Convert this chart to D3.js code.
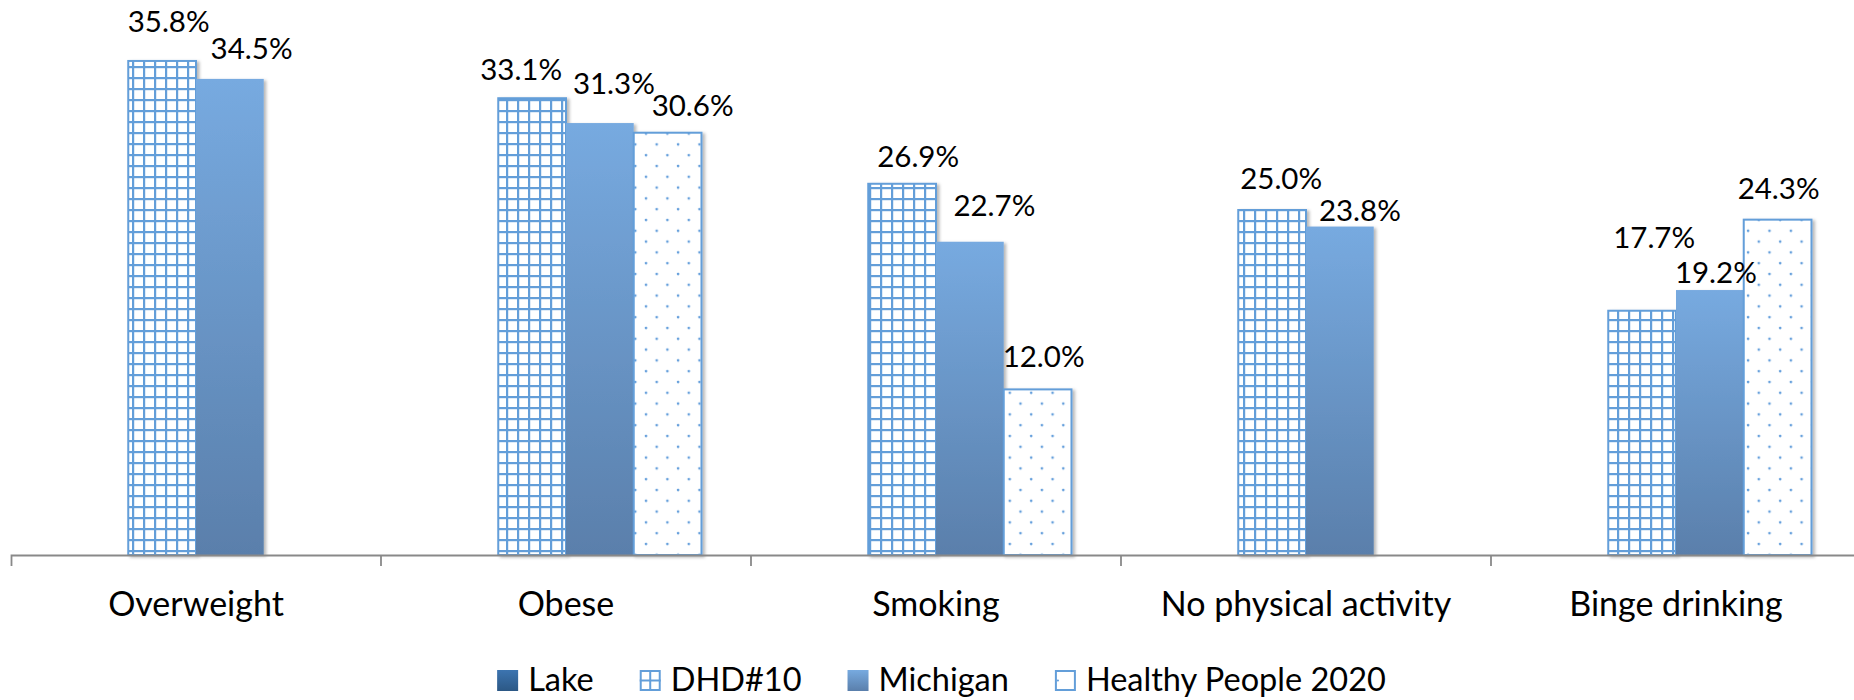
<!DOCTYPE html>
<html><head><meta charset="utf-8">
<script src="https://cdn.jsdelivr.net/npm/d3@7/dist/d3.min.js"></script>
<style>
body{margin:0;background:#fff;overflow:hidden}
svg{display:block;font-family:Lato,"Open Sans",sans-serif}
</style>
</head><body>
<svg id="chart" width="1854" height="700"></svg>
<script>
// ---------- data ----------
const categories = ["Overweight", "Obese", "Smoking", "No physical activity", "Binge drinking"];
const seriesNames = ["Lake", "DHD#10", "Michigan", "Healthy People 2020"];
const lakeValues = [null, null, null, null, null];
const dhd10Values = [35.8, 33.1, 26.9, 25.0, 17.7];
const michiganValues = [34.5, 31.3, 22.7, 23.8, 19.2];
const healthyPeopleValues = [null, 30.6, 12.0, null, 24.3];
const yDomain = [0, 40];

// ---------- layout (manual data-label placement, px) ----------
const labelOffsets = {
  "DHD#10": {dx: [6.5, -11, 16, 9, 12], dy: [29, 18.6, 16.7, 21, 63]},
  "Michigan": {dx: [21.7, 14, 24.5, 20, 6], dy: [20, 29, 25.6, 6, 7]},
  "Healthy People 2020": {dx: [0, 25, 6, 0, 1], dy: [0, 17, 22.7, 0, 21]}
};

const seriesValues = {
  "Lake": lakeValues,
  "DHD#10": dhd10Values,
  "Michigan": michiganValues,
  "Healthy People 2020": healthyPeopleValues
};

const svg = d3.select("#chart");
const baseY = 555, topY = 3;

const x0 = d3.scaleBand().domain(categories).range([11, 1861]).padding(0);
const x1 = d3.scaleBand().domain(seriesNames).range([0, x0.bandwidth()])
  .paddingInner(0).paddingOuter(0.731);
const y = d3.scaleLinear().domain(yDomain).range([baseY, topY]);

// ---------- defs ----------
const defs = svg.append("defs");
const blue = "#639ed9";

const grid = defs.append("pattern").attr("id", "grid")
  .attr("patternUnits", "userSpaceOnUse").attr("width", 11).attr("height", 11);
grid.append("rect").attr("width", 11).attr("height", 11).attr("fill", "#fff");
grid.append("rect").attr("x", 0).attr("y", 0).attr("width", 2.2).attr("height", 11).attr("fill", blue);
grid.append("rect").attr("x", 0).attr("y", 0).attr("width", 11).attr("height", 2.2).attr("fill", blue);

const dots = defs.append("pattern").attr("id", "dots")
  .attr("patternUnits", "userSpaceOnUse").attr("width", 21.4).attr("height", 21.6);
dots.append("rect").attr("width", 21.4).attr("height", 21.6).attr("fill", "#fff");
dots.append("circle").attr("cx", 4).attr("cy", 4).attr("r", 1.35).attr("fill", "#66a0dc");
dots.append("circle").attr("cx", 14.7).attr("cy", 14.8).attr("r", 1.35).attr("fill", "#66a0dc");

const gMich = defs.append("linearGradient").attr("id", "gradMich")
  .attr("x1", 0).attr("y1", 0).attr("x2", 0).attr("y2", 1);
gMich.append("stop").attr("offset", "0%").attr("stop-color", "#77aae0");
gMich.append("stop").attr("offset", "100%").attr("stop-color", "#5a7fab");

const gLake = defs.append("linearGradient").attr("id", "gradLake")
  .attr("x1", 0).attr("y1", 0).attr("x2", 0).attr("y2", 1);
gLake.append("stop").attr("offset", "0%").attr("stop-color", "#3c74b0");
gLake.append("stop").attr("offset", "100%").attr("stop-color", "#2c5885");

const shadow = defs.append("filter").attr("id", "shadow")
  .attr("x", "-20%").attr("y", "-5%").attr("width", "140%").attr("height", "110%");
shadow.append("feDropShadow").attr("dx", 2.5).attr("dy", 1.5).attr("stdDeviation", 1.8)
  .attr("flood-color", "#000").attr("flood-opacity", 0.28);

const seriesStyle = {
  "Lake": {fill: "url(#gradLake)", stroke: "none"},
  "DHD#10": {fill: "url(#grid)", stroke: blue},
  "Michigan": {fill: "url(#gradMich)", stroke: "none"},
  "Healthy People 2020": {fill: "url(#dots)", stroke: blue}
};

// ---------- bars ----------
const rows = [];
categories.forEach((c, i) => {
  seriesNames.forEach(s => {
    const v = seriesValues[s][i];
    if (v !== null && v !== undefined) rows.push({cat: c, idx: i, series: s, value: v});
  });
});

const barW = x1.bandwidth();
svg.append("g").selectAll("rect").data(rows).join("rect")
  .attr("x", d => x0(d.cat) + x1(d.series))
  .attr("y", d => y(d.value))
  .attr("width", barW)
  .attr("height", d => baseY - y(d.value))
  .attr("fill", d => seriesStyle[d.series].fill)
  .attr("stroke", d => seriesStyle[d.series].stroke)
  .attr("stroke-width", 2)
  .attr("filter", "url(#shadow)");

// ---------- axis ----------
const axis = d3.axisBottom(x0).tickSizeInner(0).tickSizeOuter(11).tickPadding(0);
const gAxis = svg.append("g").attr("transform", `translate(0,${baseY})`).call(axis);
gAxis.select(".domain").attr("stroke", "#898989").attr("stroke-width", 1.8);
gAxis.selectAll(".tick text")
  .attr("y", 61).attr("dy", 0)
  .attr("fill", "#000").attr("font-size", 34).attr("font-family", "Lato");
gAxis.selectAll(".tick line").remove();
gAxis.selectAll("line.sep").data(categories.slice(1)).join("line")
  .attr("class", "sep")
  .attr("x1", d => x0(d)).attr("x2", d => x0(d))
  .attr("y1", 0).attr("y2", 11)
  .attr("stroke", "#898989").attr("stroke-width", 1.8);

// ---------- labels ----------
const fmt = d3.format(".1f");
svg.append("g").selectAll("text").data(rows).join("text")
  .attr("x", d => x0(d.cat) + x1(d.series) + barW / 2 + labelOffsets[d.series].dx[d.idx])
  .attr("y", d => y(d.value) - labelOffsets[d.series].dy[d.idx])
  .attr("text-anchor", "middle")
  .attr("font-size", 29.5)
  .attr("fill", "#000")
  .text(d => fmt(d.value) + "%");

// ---------- legend ----------
const legend = svg.append("g");
const mk = 21, mkGap = 10, itemGap = 46, legTop = 670, legBase = 691;
const items = legend.selectAll("g").data(seriesNames).join("g");
items.append("text")
  .attr("x", mk + mkGap).attr("y", legBase)
  .attr("font-size", 32.5).attr("fill", "#000")
  .text(d => d);
items.each(function(d) {
  const g = d3.select(this);
  if (d === "Lake") {
    g.append("rect").attr("x", 0).attr("y", legTop).attr("width", mk).attr("height", mk).attr("fill", "url(#gradLake)");
  } else if (d === "Michigan") {
    g.append("rect").attr("x", 0).attr("y", legTop).attr("width", mk).attr("height", mk).attr("fill", "url(#gradMich)");
  } else if (d === "DHD#10") {
    g.append("rect").attr("x", 1).attr("y", legTop + 1).attr("width", mk - 2).attr("height", mk - 2)
      .attr("fill", "#fff").attr("stroke", blue).attr("stroke-width", 2);
    g.append("line").attr("x1", mk / 2).attr("x2", mk / 2).attr("y1", legTop).attr("y2", legTop + mk)
      .attr("stroke", blue).attr("stroke-width", 2);
    g.append("line").attr("x1", 0).attr("x2", mk).attr("y1", legTop + mk / 2).attr("y2", legTop + mk / 2)
      .attr("stroke", blue).attr("stroke-width", 2);
  } else {
    g.append("rect").attr("x", 1).attr("y", legTop + 1).attr("width", mk - 2).attr("height", mk - 2)
      .attr("fill", "#fff").attr("stroke", blue).attr("stroke-width", 2);
    g.append("circle").attr("cx", 3).attr("cy", legTop + mk / 2).attr("r", 1.1).attr("fill", blue);
  }
});
let widths = [];
items.each(function() { widths.push(d3.select(this).select("text").node().getComputedTextLength() + mk + mkGap); });
const total = d3.sum(widths) + itemGap * (widths.length - 1);
let cx = 941.5 - total / 2;
items.each(function(d, i) {
  d3.select(this).attr("transform", `translate(${cx},0)`);
  cx += widths[i] + itemGap;
});
</script>
</body></html>
